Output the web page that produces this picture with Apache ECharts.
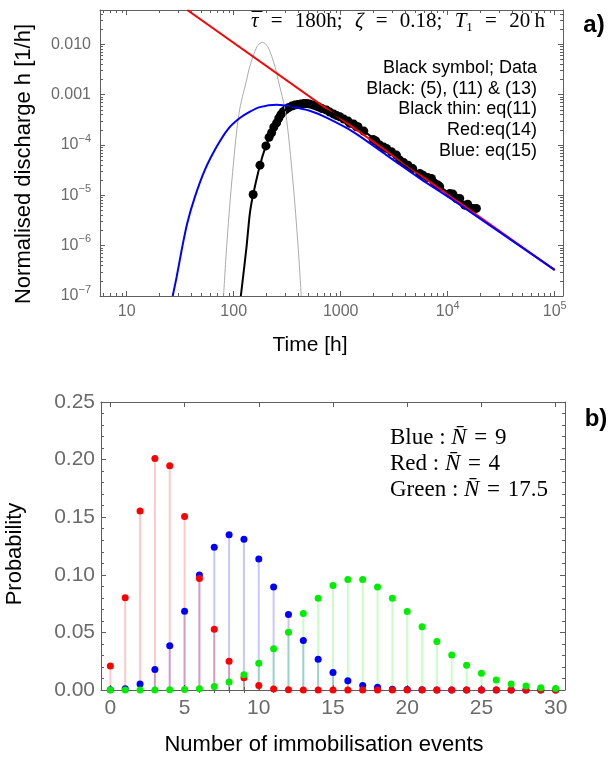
<!DOCTYPE html>
<html>
<head>
<meta charset="utf-8">
<script src="https://cdn.jsdelivr.net/npm/echarts@6/dist/echarts.min.js"></script>
<style>
html, body { margin: 0; padding: 0; background: #fff; }
#main { width: 613px; height: 757px; }
</style>
</head>
<body>
<div id="main"></div>
<script>
//--------------------Data: panel a--------------------
// [time h, normalised discharge 1/h]
let red_line = [[36.8, 0.0481], [100000, 3.26e-7]];
let blue_curve = [[26.9, 1.0e-7], [29.3, 2.4e-7], [32.6, 8.1e-7], [36.8, 2.8e-6], [43.4, 9.3e-6],
    [53.8, 3.2e-5], [69.2, 9.2e-5], [88.9, 2.1e-4], [114, 3.43e-4], [142, 4.61e-4], [176, 5.66e-4],
    [252, 6.3e-4], [360, 5.7e-4], [514, 4.8e-4], [736, 3.5e-4], [1306, 1.83e-4], [2677, 6.3e-5],
    [5484, 2.17e-5], [11230, 8.0e-6], [100000, 3.3e-7]];
let gray_curve = [[80.4, 1e-7], [85.9, 9.46e-7], [96.2, 2.0e-5], [112, 4.25e-4], [131.9, 1.95e-3],
    [141.2, 3.59e-3], [164.8, 8.96e-3], [185.3, 0.01096], [208.5, 8.96e-3], [243.2, 3.59e-3],
    [260.6, 1.95e-3], [306.3, 4.25e-4], [357, 2.0e-5], [400, 9.46e-7], [427.6, 1e-7]];
let black_curve = [[116.6, 1e-7], [131.8, 9.5e-7], [141.6, 4.4e-6], [152, 1.04e-5], [176, 3.98e-5],
    [200, 9.6e-5], [226, 1.75e-4], [252, 2.76e-4], [290, 4.57e-4], [349, 5.93e-4], [424, 6.56e-4],
    [514, 6.5e-4], [625, 5.66e-4], [791, 4.51e-4], [1069, 3.27e-4], [1644, 1.89e-4], [2679, 8.55e-5],
    [4256, 3.98e-5], [7047, 2.0e-5], [12050, 8.7e-6], [18530, 5.4e-6]];
let data_points = [[152, 1.04e-5], [176, 3.98e-5], [200, 9.6e-5], [214, 1.42e-4], [226, 1.75e-4],
    [237, 2.27e-4], [252, 2.76e-4], [264, 3.43e-4], [276, 4.02e-4], [290, 4.57e-4], [307, 5.06e-4],
    [327, 5.55e-4], [349, 5.93e-4], [372, 6.21e-4], [397, 6.41e-4], [424, 6.56e-4], [452, 6.65e-4],
    [483, 6.65e-4], [514, 6.5e-4], [550, 6.26e-4], [586, 5.98e-4], [625, 5.66e-4], [667, 5.3e-4],
    [736, 4.94e-4], [791, 4.51e-4], [861, 4.11e-4], [918, 3.84e-4], [982, 3.64e-4], [1069, 3.27e-4],
    [1172, 2.99e-4], [1216, 2.69e-4], [1324, 2.6e-4], [1406, 2.3e-4], [1452, 2.3e-4], [1644, 1.89e-4],
    [2009, 1.29e-4], [2128, 1.2e-4], [2317, 9.95e-5], [2523, 9.08e-5], [2679, 8.55e-5], [2979, 7.33e-5],
    [3319, 6.3e-5], [3565, 5.01e-5], [3882, 4.47e-5], [4256, 3.98e-5], [4710, 3.4e-5], [5483, 2.72e-5],
    [5875, 2.52e-5], [6501, 2.25e-5], [7047, 2.17e-5], [7568, 1.73e-5], [8110, 1.6e-5], [8414, 1.49e-5],
    [10450, 1.09e-5], [11190, 1.06e-5], [12050, 8.67e-6], [12940, 8.67e-6], [14420, 6.38e-6],
    [15380, 6.68e-6], [17220, 5.5e-6], [18530, 5.5e-6]];
let x_ticks_a = [10, 100, 1000, 10000, 100000];
let y_ticks_a = [1e-7, 1e-6, 1e-5, 1e-4, 0.001, 0.01];
let legend_a = ['Black symbol; Data', 'Black: (5), (11) & (13)', 'Black thin: eq(11)', 'Red:eq(14)', 'Blue: eq(15)'];

//--------------------Data: panel b--------------------
let events = [0, 1, 2, 3, 4, 5, 6, 7, 8, 9, 10, 11, 12, 13, 14, 15, 16, 17, 18, 19, 20,
    21, 22, 23, 24, 25, 26, 27, 28, 29, 30];
let prob_red = [0.0209, 0.0800, 0.1553, 0.2010, 0.1947, 0.1506, 0.0968, 0.0527, 0.0249, 0.0107, 0.0038,
    0.0009, 0.0003, 0.0001, 0, 0, 0, 0, 0, 0, 0, 0, 0, 0, 0, 0, 0, 0, 0, 0, 0];
let prob_blue = [0.0003, 0.0011, 0.0052, 0.0177, 0.0385, 0.0684, 0.0999, 0.1240, 0.1347, 0.1309, 0.1138,
    0.0895, 0.0655, 0.0429, 0.0267, 0.0151, 0.0081, 0.0038, 0.0023, 0.0006, 0.0004, 0.0003,
    0, 0, 0, 0, 0, 0, 0, 0, 0];
let prob_green = [0, 0, 0, 0, 0.0003, 0.0004, 0.0010, 0.0030, 0.0070, 0.0133, 0.0232, 0.0359, 0.0501,
    0.0663, 0.0797, 0.0907, 0.0959, 0.0959, 0.0895, 0.0797, 0.0681, 0.0548, 0.0420, 0.0304, 0.0214,
    0.0145, 0.0087, 0.0052, 0.0035, 0.0020, 0.0014];
let x_ticks_b = [0, 5, 10, 15, 20, 25, 30];

//--------------------Style--------------------
let frame_color = "#5e5e5e";
let label_color = "#6b6b6b";
let sans = '"Liberation Sans", Arial, sans-serif';
let serif = '"Liberation Serif", "Times New Roman", serif';

let chart_dom = document.getElementById("main");
let chart = echarts.init(chart_dom);

// minor ticks 2..9 x 10^k for the log axes
function log_minor(lo, hi) {
    let out = [];
    for (let e = -8; e <= 6; e++) {
        for (let m = 2; m <= 9; m++) {
            let v = m * Math.pow(10, e);
            if (v > lo && v < hi) out.push(v);
        }
    }
    return out;
}
function log_label(v) {
    let e = Math.round(Math.log10(v));
    if (e >= 1 && e <= 3) return '{b|' + Math.pow(10, e) + '}';
    if (e === -2) return '{b|0.010}';
    if (e === -3) return '{b|0.001}';
    return '{b|10}{s|' + (e < 0 ? '\u2212' + (-e) : e) + '}';
}
let rich_a = {
    b: {fontSize: 16, fontFamily: sans, color: label_color, lineHeight: 24},
    s: {fontSize: 11, fontFamily: sans, color: label_color, lineHeight: 13, verticalAlign: 'top'}
};
function ticks(values, len) {
    return {show: true, inside: true, length: len, customValues: values,
        lineStyle: {color: frame_color, width: 1}};
}
function frame_axis(base, opt) {
    return Object.assign({
        splitLine: {show: false},
        axisLine: {show: true, onZero: false, lineStyle: {color: frame_color, width: 1}},
        axisLabel: {show: false}
    }, base, opt);
}

//--------------------Axes--------------------
let x_min_a = 5.63, x_max_a = 119500;
let y_min_a = 1e-7, y_max_a = 0.0481;
let x_minor_a = log_minor(x_min_a, x_max_a);
let y_minor_a = log_minor(y_min_a, y_max_a);
let xa = {type: 'log', logBase: 10, gridIndex: 0, min: x_min_a, max: x_max_a};
let ya = {type: 'log', logBase: 10, gridIndex: 0, min: y_min_a, max: y_max_a};

let x_minor_b = events.filter(v => v % 5 !== 0);
let xb = {type: 'value', gridIndex: 1, min: -0.63, max: 30.63};
let yb = {type: 'value', gridIndex: 1, min: 0, max: 0.25, interval: 0.05,
    minorTick: {show: true, splitNumber: 5, length: 3, lineStyle: {color: frame_color}}};

let x_axes = [
    frame_axis(xa, {position: 'bottom', axisTick: ticks(x_ticks_a, 5),
        axisLabel: {show: true, customValues: x_ticks_a, formatter: log_label, margin: 4, rich: rich_a}}),
    frame_axis(xa, {position: 'bottom', axisLine: {show: false}, axisTick: ticks(x_minor_a, 3)}),
    frame_axis(xa, {position: 'top', axisTick: ticks(x_ticks_a, 5)}),
    frame_axis(xa, {position: 'top', axisLine: {show: false}, axisTick: ticks(x_minor_a, 3)}),
    frame_axis(xb, {position: 'bottom', axisTick: ticks(x_ticks_b, 5),
        axisLabel: {show: true, customValues: x_ticks_b, fontSize: 21, fontFamily: sans,
            color: label_color, lineHeight: 24, margin: 6}}),
    frame_axis(xb, {position: 'bottom', axisLine: {show: false}, axisTick: ticks(x_minor_b, 3)}),
    frame_axis(xb, {position: 'top', axisTick: ticks(x_ticks_b, 5)}),
    frame_axis(xb, {position: 'top', axisLine: {show: false}, axisTick: ticks(x_minor_b, 3)})
];
let y_axes = [
    frame_axis(ya, {position: 'left', axisTick: ticks(y_ticks_a, 5),
        axisLabel: {show: true, customValues: y_ticks_a, formatter: log_label, margin: 9, rich: rich_a}}),
    frame_axis(ya, {position: 'left', axisLine: {show: false}, axisTick: ticks(y_minor_a, 3)}),
    frame_axis(ya, {position: 'right', axisTick: ticks(y_ticks_a, 5)}),
    frame_axis(ya, {position: 'right', axisLine: {show: false}, axisTick: ticks(y_minor_a, 3)}),
    frame_axis(yb, {position: 'left',
        axisTick: {show: true, inside: true, length: 5, lineStyle: {color: frame_color}},
        axisLabel: {show: true, formatter: v => v.toFixed(2), fontSize: 21, fontFamily: sans,
            color: label_color, margin: 6}}),
    frame_axis(yb, {position: 'right',
        axisTick: {show: true, inside: true, length: 5, lineStyle: {color: frame_color}}})
];

//--------------------Series--------------------
function curve(data, color, width) {
    return {type: 'line', xAxisIndex: 0, yAxisIndex: 0, data: data, symbol: 'none', showSymbol: false,
        smooth: 0.3, clip: true, lineStyle: {color: color, width: width}, silent: true};
}
function stems(probs, color) {
    return {type: 'bar', xAxisIndex: 4, yAxisIndex: 4, barWidth: 2, barGap: '-100%',
        data: events.map((k, i) => [k, probs[i]]), itemStyle: {color: color}, silent: true};
}
function dots(probs, color) {
    return {type: 'scatter', xAxisIndex: 4, yAxisIndex: 4, symbolSize: 7,
        data: events.map((k, i) => [k, probs[i]]), itemStyle: {color: color, opacity: 1}, silent: true};
}
let series_list = [
    curve(gray_curve, '#ababab', 1),
    curve(red_line, '#ff0000', 2),
    curve(blue_curve, '#0000ff', 2),
    curve(black_curve, '#000000', 2),
    {type: 'scatter', xAxisIndex: 0, yAxisIndex: 0, data: data_points, symbolSize: 9,
        itemStyle: {color: '#000', opacity: 1}, silent: true},
    stems(prob_blue, 'rgba(0,0,255,0.22)'),
    stems(prob_red, 'rgba(255,0,0,0.22)'),
    stems(prob_green, 'rgba(0,255,0,0.22)'),
    dots(prob_blue, '#0000ff'),
    dots(prob_red, '#ff0000'),
    dots(prob_green, '#00ee00')
];

//--------------------Texts--------------------
let eq_gap = '\u2002\u200a';
let texts = [
    {type: 'text', x: 251, y: 21, style: {
        text: '{i|\u03c4}' + eq_gap + '=' + eq_gap + '180h;' + eq_gap + '{i|\u03b6}' + eq_gap + '=' + eq_gap +
            '0.18;' + eq_gap + '{i|T}{sub|1}' + eq_gap + '=' + eq_gap + '20\u2009h',
        font: '21px ' + serif, fill: '#000', align: 'left', verticalAlign: 'middle', lineHeight: 26,
        rich: {i: {font: 'italic 21px ' + serif, lineHeight: 26},
            sub: {font: '13px ' + serif, lineHeight: 14, verticalAlign: 'bottom'}}}},
    // bar over tau
    {type: 'text', x: 257, y: 21, style: {text: '\u00af', font: '21px ' + serif, fill: '#000',
        align: 'center', verticalAlign: 'middle', lineHeight: 26}},
    {type: 'text', x: 537, y: 57.5, style: {text: legend_a.join('\n'), font: '18px ' + sans,
        fill: '#000', align: 'right', verticalAlign: 'top', lineHeight: 20.8}},
    {type: 'text', x: 594, y: 25, style: {text: 'a)', font: 'bold 24px ' + sans, fill: '#000',
        align: 'center', verticalAlign: 'middle'}},
    {type: 'text', x: 24, y: 164, rotation: Math.PI / 2, style: {text: 'Normalised discharge h [1/h]',
        font: '22px ' + sans, fill: '#000', align: 'center', verticalAlign: 'middle'}},
    {type: 'text', x: 310, y: 345, style: {text: 'Time [h]', font: '21px ' + sans, fill: '#000',
        align: 'center', verticalAlign: 'middle'}},
    {type: 'text', x: 390, y: 425, style: {
        text: 'Blue : {i|N\u0304}\u2004=\u20049\nRed : {i|N\u0304}\u2004=\u20044\nGreen : {i|N\u0304}\u2004=\u200417.5',
        font: '23px ' + serif, fill: '#000', align: 'left', verticalAlign: 'top', lineHeight: 25.8,
        rich: {i: {font: 'italic 23px ' + serif, lineHeight: 25.8}}}},
    {type: 'text', x: 596, y: 419, style: {text: 'b)', font: 'bold 24px ' + sans, fill: '#000',
        align: 'center', verticalAlign: 'middle'}},
    {type: 'text', x: 15, y: 554, rotation: Math.PI / 2, style: {text: 'Probability',
        font: '22px ' + sans, fill: '#000', align: 'center', verticalAlign: 'middle'}},
    {type: 'text', x: 324, y: 745, style: {text: 'Number of immobilisation events',
        font: '22px ' + sans, fill: '#000', align: 'center', verticalAlign: 'middle'}}
];

//------------------Generate Graph------------------
let chart_option = {
    backgroundColor: '#fff',
    animation: false,
    grid: [
        {left: 100, top: 10, width: 463, height: 286, outerBoundsMode: 'none'},
        {left: 101, top: 402, width: 464, height: 288, outerBoundsMode: 'none'}
    ],
    xAxis: x_axes,
    yAxis: y_axes,
    series: series_list,
    graphic: texts
};
if (chart_option && typeof chart_option === "object") {
    chart.setOption(chart_option, true);
}
</script>
</body>
</html>
